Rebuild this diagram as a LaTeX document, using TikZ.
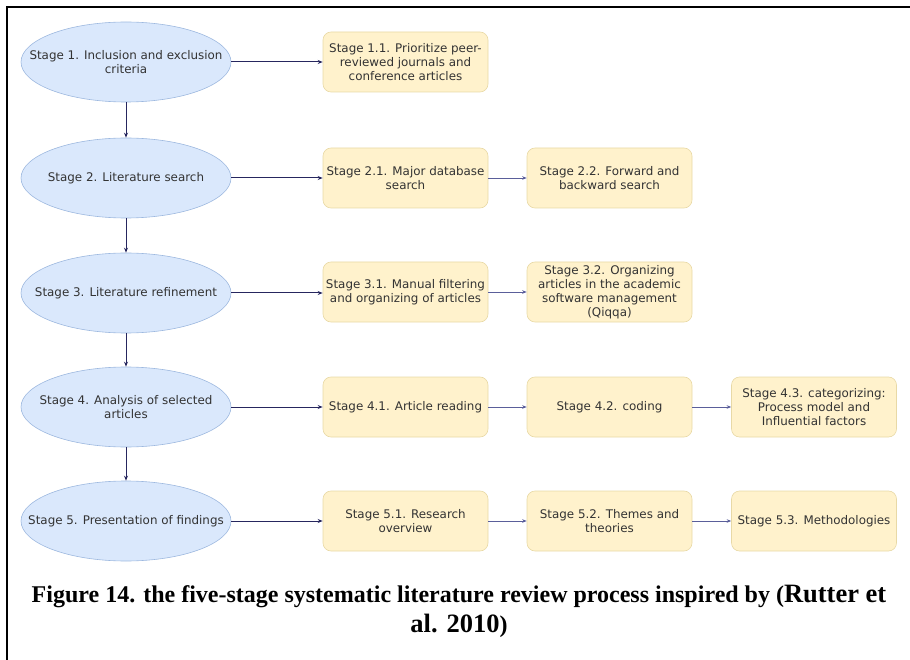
\documentclass[tikz,border=0pt]{standalone}
\usepackage{fontspec}
\setmainfont{Liberation Serif}
\newfontfamily\boxfont{DejaVu Sans}
\usetikzlibrary{shapes.geometric,arrows.meta}

\definecolor{stagefill}{HTML}{DAE8FC}
\definecolor{stageline}{HTML}{9DB8DF}
\definecolor{taskfill}{HTML}{FFF2CC}
\definecolor{taskline}{HTML}{E8D9A6}
\definecolor{inktext}{HTML}{333333}
\definecolor{mainflow}{HTML}{26265E}
\definecolor{subflow}{HTML}{5A5E9A}

\tikzset{
  stagenode/.style={ellipse, draw=stageline, fill=stagefill, line width=0.6pt,
    minimum width=210pt, minimum height=80pt, inner sep=0pt},
  stagetext/.style={align=center, text=inktext, inner sep=0pt,
    font=\boxfont\fontsize{11.9}{13.8}\selectfont},
  tasknode/.style={rectangle, rounded corners=8pt, draw=taskline, fill=taskfill,
    line width=0.6pt, minimum width=165pt, minimum height=60pt, inner sep=0pt,
    align=center, text=inktext, font=\boxfont\fontsize{11.9}{14}\selectfont},
  mainarrow/.style={draw=mainflow, line width=1pt,
    -{Stealth[length=5pt,width=4pt]}},
  subarrow/.style={draw=subflow, line width=0.7pt,
    -{Stealth[length=4.5pt,width=3.5pt]}},
  captiontext/.style={font=\bfseries\fontsize{24}{30}\selectfont, align=center}
}

\begin{document}
\begin{tikzpicture}[x=1pt, y=-1pt]
  \useasboundingbox (0,0) rectangle (910,660);

  % frame (left and top edges only)
  \draw[line width=2pt] (7,660) -- (7,7) -- (910,7);

  % main stages: fixed-size ellipses with centred labels
  \node[stagenode, label={[stagetext]center:Stage 1. Inclusion and exclusion\\criteria}] (s1) at (126,62) {};
  \node[stagenode, label={[stagetext]center:Stage 2. Literature search}] (s2) at (126,178) {};
  \node[stagenode, label={[stagetext]center:Stage 3. Literature refinement}] (s3) at (126,293) {};
  \node[stagenode, label={[stagetext]center:Stage 4. Analysis of selected\\articles}] (s4) at (126,407) {};
  \node[stagenode, label={[stagetext]center:Stage 5. Presentation of findings}] (s5) at (126,521) {};

  % sub-stages
  \node[tasknode] (t11) at (405.5,62)  {Stage 1.1. Prioritize peer-\\reviewed journals and\\conference articles};
  \node[tasknode] (t21) at (405.5,178) {Stage 2.1. Major database\\search};
  \node[tasknode] (t22) at (609.5,178) {Stage 2.2. Forward and\\backward search};
  \node[tasknode] (t31) at (405.5,292) {Stage 3.1. Manual filtering\\and organizing of articles};
  \node[tasknode] (t32) at (609.5,292) {Stage 3.2. Organizing\\articles in the academic\\software management\\(Qiqqa)};
  \node[tasknode] (t41) at (405.5,407) {Stage 4.1. Article reading};
  \node[tasknode] (t42) at (609.5,407) {Stage 4.2. coding};
  \node[tasknode] (t43) at (814,407)   {Stage 4.3. categorizing:\\Process model and\\Influential factors};
  \node[tasknode] (t51) at (405.5,521) {Stage 5.1. Research\\overview};
  \node[tasknode] (t52) at (609.5,521) {Stage 5.2. Themes and\\theories};
  \node[tasknode] (t53) at (814,521)   {Stage 5.3. Methodologies};

  % flow between stages
  \draw[mainarrow] (s1) -- (s2);
  \draw[mainarrow] (s2) -- (s3);
  \draw[mainarrow] (s3) -- (s4);
  \draw[mainarrow] (s4) -- (s5);

  % stage to first sub-stage
  \draw[mainarrow] (s1.east) -- (t11.west);
  \draw[mainarrow] (s2.east) -- (t21.west);
  \draw[mainarrow] (s3.east) -- (s3.east -| t31.west);
  \draw[mainarrow] (s4.east) -- (t41.west);
  \draw[mainarrow] (s5.east) -- (t51.west);

  % sub-stage chains
  \draw[subarrow] (t21) -- (t22);
  \draw[subarrow] (t31) -- (t32);
  \draw[subarrow] (t41) -- (t42);
  \draw[subarrow] (t42) -- (t43);
  \draw[subarrow] (t51) -- (t52);
  \draw[subarrow] (t52) -- (t53);

  % caption
  \node[captiontext, anchor=base] (cap1) at (459,602)
    {Figure 14. the five-stage systematic literature review process inspired by ({\fontsize{26.5}{30}\selectfont Rutter et}};
  \node[captiontext, anchor=base] (cap2) at (459,632)
    {{\fontsize{26.5}{30}\selectfont al. 2010})};
\end{tikzpicture}
\end{document}
